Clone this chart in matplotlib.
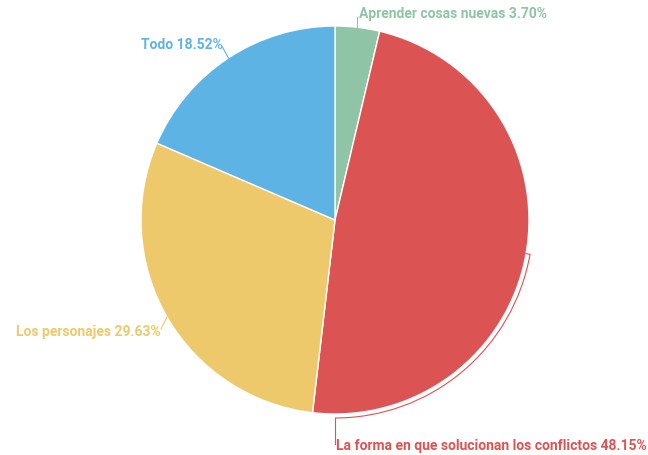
import numpy as np
import matplotlib.pyplot as plt
from matplotlib.patches import Arc

plt.rcParams['font.family'] = ['Roboto', 'DejaVu Sans']

# chart data
categories = ['Aprender cosas nuevas', 'La forma en que solucionan los conflictos',
              'Los personajes', 'Todo']
percentages = [3.70, 48.15, 29.63, 18.52]
colors = ['#8fc4a6', '#dc5354', '#eec96b', '#5db4e4']

W, H = 648, 455
cx, cy, r = 335, 235, 194

fig = plt.figure(figsize=(W / 100, H / 100), dpi=100)
ax = fig.add_axes([0, 0, 1, 1])

ax.pie(percentages, colors=colors, startangle=90, counterclock=False,
       center=(cx, cy), radius=r, frame=True,
       wedgeprops=dict(edgecolor='white', linewidth=1))
ax.set_xlim(0, W)
ax.set_ylim(0, H)
ax.set_aspect('equal')
ax.axis('off')

# mid angle of each slice (degrees, matplotlib convention)
cum = np.cumsum([0] + percentages)
mids = [90 - 3.6 * (cum[i] + percentages[i] / 2) for i in range(len(percentages))]


def edge(angle, rad=r):
    a = np.deg2rad(angle)
    return cx + rad * np.cos(a), cy + rad * np.sin(a)


def label(i):
    return f"{categories[i]} {percentages[i]:.2f}%"


fs = 10

# Aprender cosas nuevas: short line straight up
x0, y0 = edge(mids[0])
ax.plot([x0, x0], [y0, y0 + 10], color=colors[0], lw=0.8)
ax.text(x0 + 2, y0 + 13, label(0), color=colors[0], fontsize=fs,
        fontweight='bold', ha='left', va='center')

# Todo
x0, y0 = edge(mids[3])
ax.plot([x0, x0 - 6], [y0, y0 + 11], color=colors[3], lw=0.8)
ax.text(x0 - 6, y0 + 13, label(3), color=colors[3], fontsize=fs,
        fontweight='bold', ha='right', va='center')

# Los personajes
x0, y0 = edge(mids[2])
ax.plot([x0, x0 - 6], [y0, y0 - 12], color=colors[2], lw=0.8)
ax.text(x0 - 6, y0 - 15, label(2), color=colors[2], fontsize=fs,
        fontweight='bold', ha='right', va='center')

# La forma...: leader follows the outside of the arc down to the bottom
ro = r + 4
x0, y0 = edge(mids[1])
x1, y1 = edge(mids[1], ro)
ax.plot([x0, x1], [y0, y1], color=colors[1], lw=0.8)
ax.add_patch(Arc((cx, cy), 2 * ro, 2 * ro, theta1=-90, theta2=mids[1],
                 color=colors[1], lw=0.8))
xb, yb = edge(-90, ro)
ax.plot([xb, xb], [yb, yb - 26], color=colors[1], lw=0.8)
ax.text(xb + 1, yb - 28, label(1), color=colors[1], fontsize=fs,
        fontweight='bold', ha='left', va='center')

fig.savefig('out.png', dpi=100)
